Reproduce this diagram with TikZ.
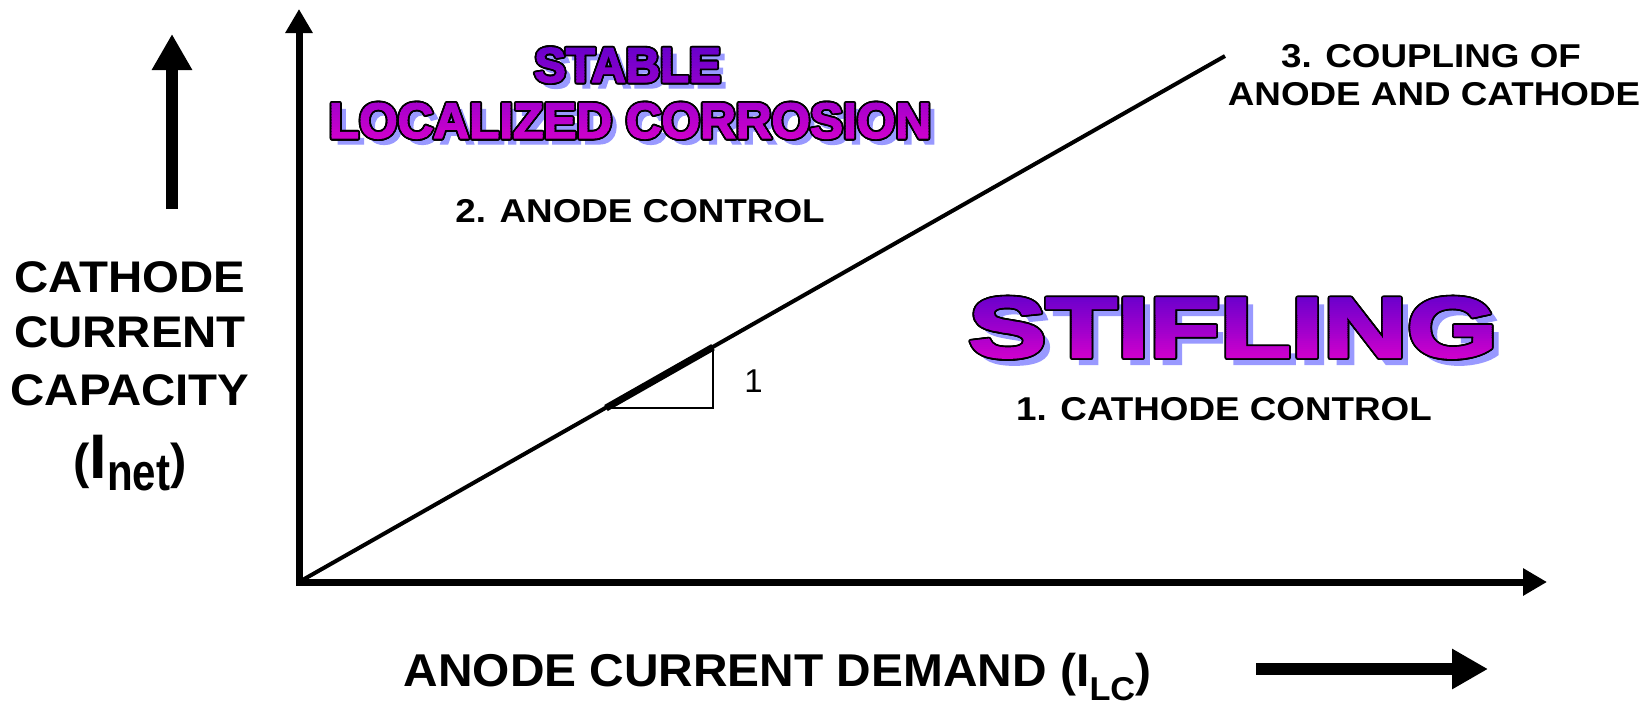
\documentclass[tikz,border=0pt]{standalone}
\usepackage{fontspec}
\setmainfont{Liberation Sans}
\newfontfamily\wafont{Liberation Sans}[BoldFeatures={FakeBold=2.5}]
\usepackage{graphicx}
\usetikzlibrary{arrows.meta,calc}

\definecolor{waTop}{HTML}{6600CC}
\definecolor{waBot}{HTML}{CC00CC}
\definecolor{waShadow}{HTML}{9999FF}

\newcommand\fs[1]{\fontsize{#1}{#1}\selectfont}

% Outlined word art with a vertical colour gradient and a drop shadow
% #1 name, #2 x, #3 baseline y, #4 font size, #5 horizontal scale,
% #6 text, #7 gradient top y, #8 gradient bottom y, #9 shadow offset
\newcommand\wordart[9]{%
  \node[wa,text=waShadow] (#1-shadow) at (#2+#9,#3+#9) {\fs{#4}\scalebox{#5}[1]{#6}};
  \foreach \a in {0,20,...,340}
    \node[wa,text=black] (#1-edge) at ($(#2,#3)+(\a:1.9)$) {\fs{#4}\scalebox{#5}[1]{#6}};
  \foreach \i in {0,...,31}{%
    \pgfmathsetmacro\ya{\i==0 ? #7-25 : #7+(#8-#7)*\i/32-0.3}%
    \pgfmathsetmacro\yb{\i==31 ? #8+25 : #7+(#8-#7)*(\i+1)/32+0.3}%
    \pgfmathtruncatemacro\pct{100-100*(\i+0.5)/32}%
    \begin{scope}
      \clip (#2-500,\ya) rectangle (#2+500,\yb);
      \node[wa,text=waTop!\pct!waBot] (#1) at (#2,#3) {\fs{#4}\scalebox{#5}[1]{#6}};
    \end{scope}
  }%
}

\begin{document}
\begin{tikzpicture}[x=1pt,y=-1pt,
  lab/.style={inner sep=0,anchor=base,font=\bfseries},
  wa/.style={inner sep=0,anchor=base,font=\wafont\bfseries},
  axis/.style={line width=7pt,line join=miter},
  bigarrow/.style={line width=12pt,-{Triangle[length=36pt,width=38pt]}}]
\useasboundingbox[fill=white] (0,0) rectangle (1648,704);

% axes
\coordinate (O) at (299,582);
\coordinate (ytip) at (299,9);
\coordinate (xtip) at (1547,582);
\draw[axis,{Triangle[length=24pt,width=26pt]}-{Triangle[length=24pt,width=26pt]}]
  (ytip) -- (O) -- (xtip);

% coupling line with its slope triangle
\coordinate (E) at (1225,56);
\draw[line width=4pt] (O) -- (E);
\coordinate (A) at (606,408);
\coordinate (C) at (713,347.2);
\coordinate (B) at (713,408);
\draw[line width=2pt] (A) -- (B) -- (C);
\draw[line width=7pt] (A) -- (C);
\node[inner sep=0,anchor=base,font=\fs{33}] (one) at (753.5,392) {1};

% direction arrows beside the axis titles
\coordinate (ua0) at (172,209);
\coordinate (ua1) at (172,34);
\draw[bigarrow] (ua0) -- (ua1);
\coordinate (ra0) at (1256,669);
\coordinate (ra1) at (1488,669);
\draw[bigarrow] (ra0) -- (ra1);

% axis titles
\node[lab,font=\bfseries\fs{44.3}] (cap1) at (130,292) {\scalebox{1.07}[1]{CATHODE}};
\node[lab,font=\bfseries\fs{44.3}] (cap2) at (130,347) {\scalebox{1.07}[1]{CURRENT}};
\node[lab,font=\bfseries\fs{44.3}] (cap3) at (130,405) {\scalebox{1.07}[1]{CAPACITY}};
\node[lab] (inet) at (130,478)
  {{\fs{49}(}{\fs{63}I}\raisebox{-12pt}{\fs{42}\scalebox{1}[1.25]{net}}{\fs{49})}};
\node[lab] (xlabel) at (777.5,686)
  {\scalebox{1.04}[1]{\fs{46}ANODE CURRENT DEMAND (I\raisebox{-14pt}{\fs{33}LC})}};

% regime labels
\node[lab,font=\bfseries\fs{33}] (anode) at (640,222) {\scalebox{1.115}[1]{2. ANODE CONTROL}};
\node[lab,font=\bfseries\fs{33}] (cathode) at (1224,420) {\scalebox{1.115}[1]{1. CATHODE CONTROL}};
\node[lab,font=\bfseries\fs{33}] (coupling1) at (1431,67) {\scalebox{1.115}[1]{3. COUPLING OF}};
\node[lab,font=\bfseries\fs{33}] (coupling2) at (1434,105) {\scalebox{1.115}[1]{ANODE AND CATHODE}};

% regime titles
\wordart{stable}{627.5}{82}{49}{0.97}{STABLE}{46}{139}{6}
\wordart{localized}{630}{138}{50}{0.99}{LOCALIZED CORROSION}{46}{139}{6}
\wordart{stifling}{1233}{357}{85}{1.365}{STIFLING}{295}{358}{7}
\end{tikzpicture}
\end{document}
